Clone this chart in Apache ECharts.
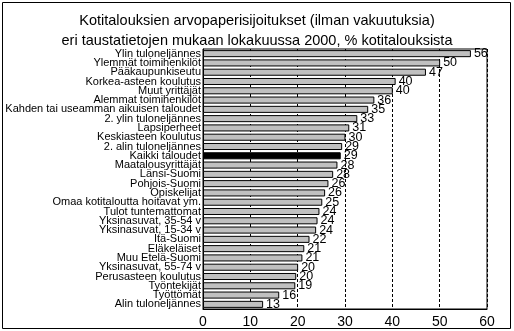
<!DOCTYPE html>
<html><head><meta charset="utf-8">
<script src="https://cdn.jsdelivr.net/npm/echarts@6/dist/echarts.min.js"></script>
<style>html,body{margin:0;padding:0;background:#fff}#c{width:514px;height:331px}</style>
</head><body><div id="c"></div>
<script>
const categories = [
  "Ylin tuloneljännes","Ylemmät toimihenkilöt","Pääkaupunkiseutu","Korkea-asteen koulutus",
  "Muut yrittäjät","Alemmat toimihenkilöt","Kahden tai useamman aikuisen taloudet",
  "2. ylin tuloneljännes","Lapsiperheet","Keskiasteen koulutus","2. alin tuloneljännes",
  "Kaikki taloudet","Maatalousyrittäjät","Länsi-Suomi","Pohjois-Suomi","Opiskelijat",
  "Omaa kotitaloutta hoitavat ym.","Tulot tuntemattomat","Yksinasuvat, 35-54 v",
  "Yksinasuvat, 15-34 v","Itä-Suomi","Eläkeläiset","Muu Etelä-Suomi","Yksinasuvat, 55-74 v",
  "Perusasteen koulutus","Työntekijät","Työttömät","Alin tuloneljännes"
];
const values = [56.6,50.1,47.1,40.7,40.1,36.2,34.9,32.6,30.9,30.1,29.4,29.1,28.4,27.5,26.5,25.8,25.2,24.6,24.2,23.9,22.5,21.4,21.0,20.1,19.7,19.5,16.1,12.7];
const valueLabels = ["56","50","47","40","40","36","35","33","31","30","29","29","28","28","26","26","25","24","24","24","22","21","21","20","20","19","16","13"];
const xTicks = [0,10,20,30,40,50,60];
const titleLines = ["Kotitalouksien arvopaperisijoitukset (ilman vakuutuksia)","eri taustatietojen mukaan lokakuussa 2000, % kotitalouksista"];
const highlight = "Kaikki taloudet";

const chart = echarts.init(document.getElementById('c'), null, {renderer:'canvas'});
chart.setOption({
  animation:false,
  title:{text:titleLines.join('\n'),left:'center',top:6,
    textStyle:{fontFamily:'Liberation Sans, Arial',fontSize:14.5,fontWeight:'normal',color:'#000',lineHeight:20}},
  graphic:[{type:'rect',shape:{x:2.5,y:2.5,width:508,height:326},style:{fill:'none',stroke:'#000',lineWidth:1}}],
  grid:{left:203,right:27,top:49,bottom:22,containLabel:false,outerBoundsMode:'none',
    show:true,borderColor:'#000',borderWidth:1,backgroundColor:'transparent'},
  xAxis:{type:'value',min:0,max:60,interval:10,
    axisLine:{show:true,lineStyle:{color:'#000'}},axisTick:{show:false},
    splitLine:{show:true,lineStyle:{color:'#000',type:[3,2],width:1}},
    axisLabel:{color:'#000',fontFamily:'Liberation Sans, Arial',fontSize:14,margin:6,
      formatter:v=>xTicks.includes(v)?String(v):''}},
  yAxis:{type:'category',inverse:true,data:categories,
    axisLine:{show:true,lineStyle:{color:'#000'}},axisTick:{show:false},
    axisLabel:{color:'#000',fontFamily:'Liberation Sans, Arial',fontSize:11,margin:2,interval:0}},
  series:[{type:'bar',barCategoryGap:'24%',
    data:values.map((v,i)=>({value:v,itemStyle:{color:categories[i]===highlight?'#000':'#c0c0c0'}})),
    itemStyle:{borderColor:'#000',borderWidth:1},
    label:{show:true,position:'right',distance:3,color:'#000',fontFamily:'Liberation Sans, Arial',fontSize:12.5,
      formatter:p=>valueLabels[p.dataIndex]}
  }]
});
</script></body></html>
